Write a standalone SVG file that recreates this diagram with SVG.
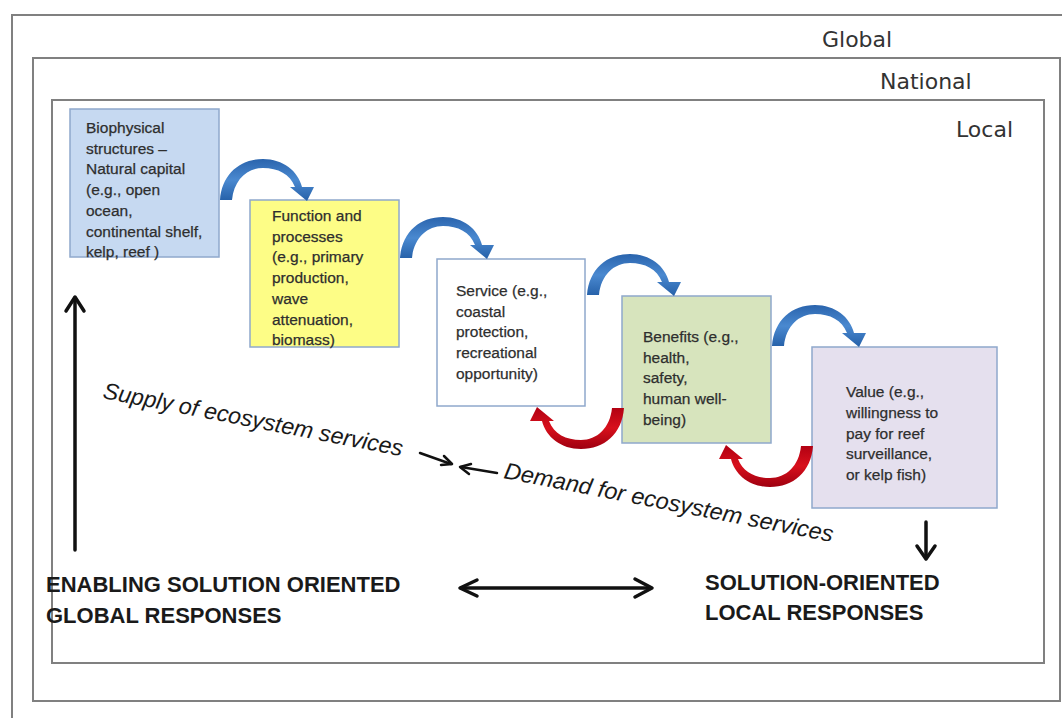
<svg xmlns="http://www.w3.org/2000/svg" xmlns:xlink="http://www.w3.org/1999/xlink" width="1062" height="718" viewBox="0 0 1062 718">
  <style>
    .frame { fill: none; stroke: #808080; stroke-width: 2; }
    .lvl { font-family: "DejaVu Sans", "Liberation Sans", sans-serif; font-size: 22px; fill: #333333; }
    .box rect { stroke: #8fa8cc; stroke-width: 1.5; }
    .box text { font-family: "Liberation Sans", Arial, sans-serif; font-size: 15.5px; fill: #2e2e2e; stroke: #2e2e2e; stroke-width: 0.25; }
    .resp { font-family: "Liberation Sans", Arial, sans-serif; font-weight: bold; font-size: 22px; fill: #1a1a1a; }
    .flow { font-family: "Liberation Sans", Arial, sans-serif; font-style: italic; font-size: 23px; fill: #1a1a1a; }
    .blk { fill: none; stroke: #111111; stroke-width: 3.5; stroke-linecap: round; stroke-linejoin: round; }
    .thin { stroke-width: 2.5; }
  </style>
  <defs>
    <linearGradient id="gBlue" x1="0" y1="0" x2="0" y2="1">
      <stop offset="0" stop-color="#2a64ad"/>
      <stop offset="0.5" stop-color="#4a89d0"/>
      <stop offset="1" stop-color="#2560a8"/>
    </linearGradient>
    <linearGradient id="gRed" x1="0" y1="0" x2="0" y2="1">
      <stop offset="0" stop-color="#9e0010"/>
      <stop offset="0.5" stop-color="#d8101c"/>
      <stop offset="1" stop-color="#b00012"/>
    </linearGradient>
    <!-- curved block arrow: base at (0,0), arcs over and points down at (87,1) -->
    <path id="arc" d="M0,0 C2,-26 20,-41 43,-41 C63,-41 78,-29 82,-13 L94,-13 L87,1 L70,-13 L75,-13 C70,-26 58,-32 43,-32 C27,-32 14,-20 12,0 Z"/>
  </defs>

  <!-- nested scale frames -->
  <g id="frames">
    <polyline class="frame" points="12,718 12,15 1062,15"/>
    <rect class="frame" x="33" y="58" width="1027" height="643"/>
    <rect class="frame" x="52" y="100" width="992" height="563"/>
    <text class="lvl" x="822" y="47">Global</text>
    <text class="lvl" x="880" y="89">National</text>
    <text class="lvl" x="956" y="137">Local</text>
  </g>

  <g id="biophysical" class="box">
    <rect x="70" y="109" width="149" height="148" fill="#c6d9f1"/>
    <text x="86" y="133">Biophysical<tspan x="86" dy="20.7">structures –</tspan><tspan x="86" dy="20.7">Natural capital</tspan><tspan x="86" dy="20.7">(e.g., open</tspan><tspan x="86" dy="20.7">ocean,</tspan><tspan x="86" dy="20.7">continental shelf,</tspan><tspan x="86" dy="20.7">kelp, reef )</tspan></text>
  </g>

  <g id="function" class="box">
    <rect x="250" y="200" width="149" height="147" fill="#fdfd86"/>
    <text x="272" y="221">Function and<tspan x="272" dy="20.7">processes</tspan><tspan x="272" dy="20.7">(e.g., primary</tspan><tspan x="272" dy="20.7">production,</tspan><tspan x="272" dy="20.7">wave</tspan><tspan x="272" dy="20.7">attenuation,</tspan><tspan x="272" dy="20.7">biomass)</tspan></text>
  </g>

  <g id="service" class="box">
    <rect x="437" y="259" width="148" height="147" fill="#ffffff"/>
    <text x="456" y="296">Service (e.g.,<tspan x="456" dy="20.7">coastal</tspan><tspan x="456" dy="20.7">protection,</tspan><tspan x="456" dy="20.7">recreational</tspan><tspan x="456" dy="20.7">opportunity)</tspan></text>
  </g>

  <g id="benefits" class="box">
    <rect x="622" y="296" width="149" height="147" fill="#d7e4bd"/>
    <text x="643" y="342">Benefits (e.g.,<tspan x="643" dy="20.7">health,</tspan><tspan x="643" dy="20.7">safety,</tspan><tspan x="643" dy="20.7">human well-</tspan><tspan x="643" dy="20.7">being)</tspan></text>
  </g>

  <g id="value" class="box">
    <rect x="812" y="347" width="185" height="161" fill="#e5e0ee"/>
    <text x="846" y="397">Value (e.g.,<tspan x="846" dy="20.8">willingness to</tspan><tspan x="846" dy="20.8">pay for reef</tspan><tspan x="846" dy="20.8">surveillance,</tspan><tspan x="846" dy="20.8">or kelp fish)</tspan></text>
  </g>

  <g id="responses">
    <text class="resp" x="46" y="592">ENABLING SOLUTION ORIENTED<tspan x="46" dy="31">GLOBAL RESPONSES</tspan></text>
    <text class="resp" x="705" y="590">SOLUTION-ORIENTED<tspan x="705" dy="30">LOCAL RESPONSES</tspan></text>
  </g>

  <g id="flow-labels">
    <text class="flow" transform="translate(102,398) rotate(11)" textLength="305" lengthAdjust="spacingAndGlyphs">Supply of ecosystem services</text>
    <text class="flow" transform="translate(503,478) rotate(11)" textLength="335" lengthAdjust="spacingAndGlyphs">Demand for ecosystem services</text>
  </g>

  <g id="connectors">
    <!-- supply chain (blue) -->
    <use xlink:href="#arc" href="#arc" fill="url(#gBlue)" transform="translate(220,200)"/>
    <use xlink:href="#arc" href="#arc" fill="url(#gBlue)" transform="translate(400,258)"/>
    <use xlink:href="#arc" href="#arc" fill="url(#gBlue)" transform="translate(587,295)"/>
    <use xlink:href="#arc" href="#arc" fill="url(#gBlue)" transform="translate(772,346)"/>
    <!-- demand feedback (red) -->
    <use xlink:href="#arc" href="#arc" fill="url(#gRed)" transform="translate(624,408) rotate(180)"/>
    <use xlink:href="#arc" href="#arc" fill="url(#gRed)" transform="translate(813,446) rotate(180)"/>

    <!-- black arrows -->
    <line class="blk" x1="75" y1="550" x2="75" y2="298"/>
    <polyline class="blk" points="66,311 75,297 84,311"/>
    <line class="blk" x1="926" y1="522" x2="926" y2="557"/>
    <polyline class="blk" points="917,546 926,559 935,546"/>
    <line class="blk" x1="461" y1="588" x2="650" y2="588"/>
    <polyline class="blk" points="477,580 460,588 477,596"/>
    <polyline class="blk" points="635,579 652,588 635,597"/>
    <line class="blk thin" x1="420" y1="453" x2="451" y2="464"/>
    <polyline class="blk thin" points="441,465 452,464 444,456"/>
    <line class="blk thin" x1="497" y1="473" x2="461" y2="467"/>
    <polyline class="blk thin" points="471,464 460,467 469,474"/>
  </g>
</svg>
